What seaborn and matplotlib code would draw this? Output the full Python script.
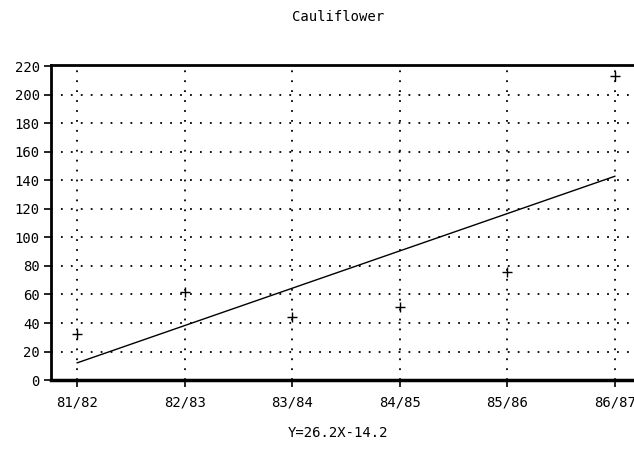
import matplotlib
matplotlib.use("Agg")
import matplotlib.pyplot as plt
import numpy as np
import pandas as pd
import seaborn as sns

# Seasons and observed values
seasons = ["81/82", "82/83", "83/84", "84/85", "85/86", "86/87"]
season_index = [1, 2, 3, 4, 5, 6]
observed = [32, 62, 44, 51, 76, 213]

# Fitted trend Y = 26.2X - 14.2
slope = 26.2
intercept = -14.2
y_ticks = [0, 20, 40, 60, 80, 100, 120, 140, 160, 180, 200, 220]

sns.set_theme(style="white")
plt.rcParams["font.family"] = ["DejaVu Sans Mono"]

points = pd.DataFrame({"x": season_index, "y": observed})
trend = pd.DataFrame({"x": season_index,
                      "y": [slope * x + intercept for x in season_index]})

fig = plt.figure(figsize=(6.34, 4.53), dpi=100)
ax = fig.add_axes([0.0804, 0.1611, 0.9196, 0.6954])

sns.lineplot(data=trend, x="x", y="y", ax=ax, color="black", linewidth=1.0)
sns.scatterplot(data=points, x="x", y="y", ax=ax, marker="+", s=60,
                color="black", linewidth=1.0, zorder=5)

ax.set_xlim(0.758, 6.176)
ax.set_ylim(0, 221)
ax.set_xticks(season_index)
ax.set_xticklabels(seasons)
ax.set_yticks(y_ticks)
ax.set_yticklabels([str(v) for v in y_ticks])
ax.set_xlabel("")
ax.set_ylabel("")

# dotted grid at every tick
dots = (0, (1, 4.5))
for x in season_index:
    ax.axvline(x, color="black", linestyle=dots, linewidth=1.3, zorder=1)
for y in y_ticks[1:-1]:
    ax.axhline(y, color="black", linestyle=dots, linewidth=1.3, zorder=1)

for side in ["left", "bottom", "top"]:
    ax.spines[side].set_color("black")
ax.spines["left"].set_linewidth(2.0)
ax.spines["bottom"].set_linewidth(2.5)
ax.spines["top"].set_linewidth(2.0)
ax.spines["right"].set_visible(False)

ax.tick_params(axis="both", which="both", direction="out", length=5, width=1.2,
               color="black", labelcolor="black", labelsize=10, pad=3)
ax.tick_params(axis="x", pad=6)
ax.tick_params(left=True, bottom=True)

fig.text(338 / 634, 1 - 17 / 453, "Cauliflower", ha="center", va="center",
         fontsize=10, color="black")
fig.text(338 / 634, 1 - 433 / 453, "Y=26.2X-14.2", ha="center", va="center",
         fontsize=10, color="black")

fig.savefig("out.png", dpi=100)
